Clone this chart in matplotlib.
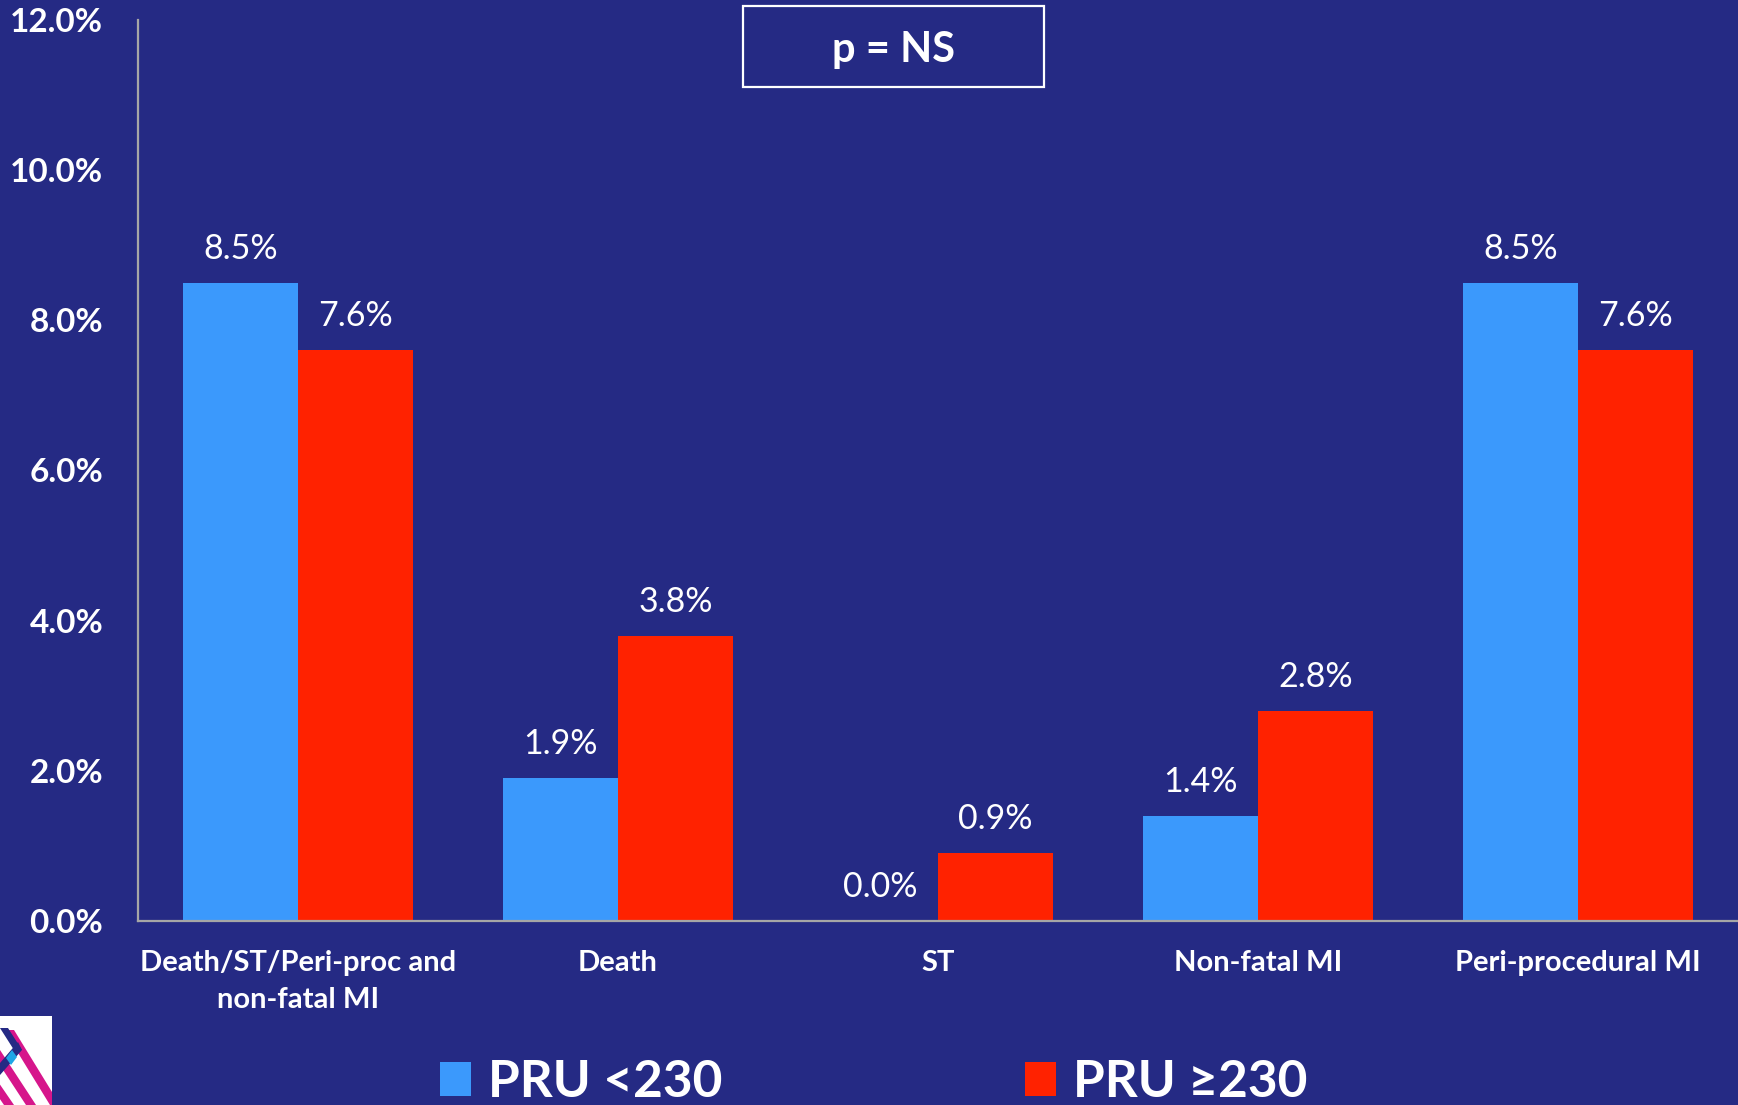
import matplotlib.pyplot as plt
import numpy as np
from matplotlib.patches import Rectangle, Polygon
from matplotlib.ticker import FuncFormatter

# data
categories = ['Death/ST/Peri-proc and\nnon-fatal MI', 'Death', 'ST', 'Non-fatal MI', 'Peri-procedural MI']
pru_low = [8.5, 1.9, 0.0, 1.4, 8.5]
pru_high = [7.6, 3.8, 0.9, 2.8, 7.6]
series_names = ['PRU <230', 'PRU \u2265230']
y_ticks = [0, 2, 4, 6, 8, 10, 12]

BG = '#252A84'
BLUE = '#3B99FC'
RED = '#FF2200'
AXIS = '#A6A6A6'
FONT = ['Lato', 'DejaVu Sans']

plt.rcParams['font.family'] = FONT

W, H = 1738, 1105
fig = plt.figure(figsize=(W / 100, H / 100), dpi=100, facecolor=BG)
ax = fig.add_axes([138 / W, 1 - 921 / H, 1 - 138 / W, (921 - 20) / H])
ax.set_facecolor(BG)

x = np.arange(len(categories))
width = 0.36
b1 = ax.bar(x - width / 2, pru_low, width, color=BLUE, label=series_names[0])
b2 = ax.bar(x + width / 2, pru_high, width, color=RED, label=series_names[1])

for bars in (b1, b2):
    ax.bar_label(bars, labels=[f'{v:.1f}%' for v in bars.datavalues],
                 padding=13, color='white', fontsize=24.5)

ax.set_xlim(-0.5, len(categories) - 0.5)
ax.set_ylim(0, 12)
ax.set_yticks(y_ticks)
ax.yaxis.set_major_formatter(FuncFormatter(lambda v, p: f'{v:.1f}%'))
ax.set_xticks(x)
ax.set_xticklabels(categories, linespacing=1.5)

ax.tick_params(axis='y', length=0, pad=25, labelsize=24, labelcolor='white')
ax.tick_params(axis='x', length=0, pad=21, labelsize=21, labelcolor='white')
for lab in ax.get_yticklabels() + ax.get_xticklabels():
    lab.set_fontweight('bold')

for s in ('top', 'right'):
    ax.spines[s].set_visible(False)
for s in ('left', 'bottom'):
    ax.spines[s].set_color(AXIS)
    ax.spines[s].set_linewidth(1.6)

# p = NS box
fig.add_artist(Rectangle((743 / W, 1 - 87 / H), (1044 - 743) / W, (87 - 6) / H,
                         transform=fig.transFigure, fill=False, edgecolor='white', lw=1.6))
fig.text(893 / W, 1 - 50 / H, 'p = NS', ha='center', va='center',
         color='white', fontsize=30, fontweight='bold')

# legend at the bottom
fig.legend(handles=[b1, b2], loc='upper left', bbox_to_anchor=(440 / W, 1 - 1059 / H),
           ncol=2, frameon=False, handlelength=0.6, handleheight=0.66,
           handletextpad=0.33, columnspacing=5.9, borderpad=0, borderaxespad=0,
           labelcolor='white', prop={'family': FONT, 'weight': 'bold', 'size': 37})

# small logo in the lower left corner
logo = Rectangle((0, 0), 52 / W, (H - 1016) / H, transform=fig.transFigure,
                 facecolor='white', edgecolor='none')
fig.add_artist(logo)
stripes = [
    ([(4, 1030), (14, 1030), (60, 1105), (50, 1105)], '#D6168B'),
    ([(-10, 1050), (0, 1050), (36, 1105), (26, 1105)], '#D6168B'),
    ([(-20, 1070), (-10, 1070), (14, 1105), (4, 1105)], '#D6168B'),
    ([(0, 1028), (8, 1028), (22, 1050), (14, 1050)], '#252A84'),
    ([(0, 1075), (0, 1063), (18, 1042), (22, 1050)], '#252A84'),
    ([(6, 1058), (12, 1050), (17, 1057), (11, 1065)], '#1EA6E6'),
]
for pts, col in stripes:
    poly = Polygon([(px / W, 1 - py / H) for px, py in pts], closed=True,
                   transform=fig.transFigure, facecolor=col, edgecolor='none')
    poly.set_clip_path(logo)
    fig.add_artist(poly)

fig.savefig('out.png', dpi=100, facecolor=BG)
